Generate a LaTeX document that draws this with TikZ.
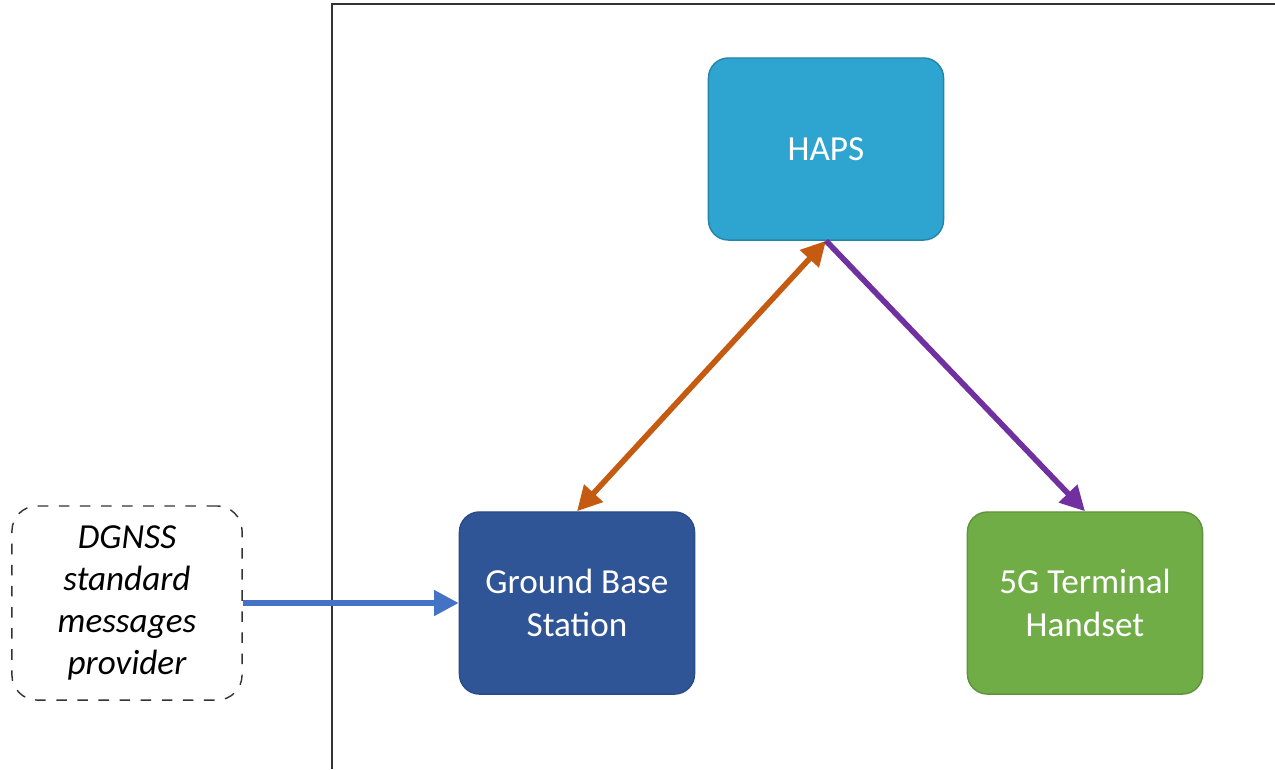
\documentclass[tikz,border=0pt]{standalone}
\usepackage{fontspec}
\setmainfont{Carlito}
\usetikzlibrary{arrows.meta}
\definecolor{hapsblue}{HTML}{2EA5D1}
\definecolor{gbsblue}{HTML}{2F5597}
\definecolor{termgreen}{HTML}{70AD47}
\definecolor{linkorange}{HTML}{C55A11}
\definecolor{linkpurple}{HTML}{7030A0}
\definecolor{feedblue}{HTML}{4472C4}
\tikzset{
  unitbox/.style={rounded corners=0.2cm, minimum width=2.35cm, minimum height=1.82cm,
    text=white, align=center, font=\fontsize{10}{12.2}\selectfont, inner sep=0pt},
  feedbox/.style={rounded corners=0.25cm, draw=black!80, dashed, minimum width=2.3cm,
    minimum height=1.94cm, align=center, font=\fontsize{10}{12}\selectfont\itshape, inner sep=0pt},
  link/.style={line width=1.6pt, -{Triangle[length=7pt,width=7pt]}}
}
\begin{document}
\begin{tikzpicture}[x=0.01cm, y=-0.01cm]
        \useasboundingbox (0,0) rectangle (1275,769);

        % frame
        \draw[black!80, line width=0.6pt] (332,769) -- (332,4) -- (1275,4);

        \node[unitbox, fill=hapsblue, draw=hapsblue!80!black] (haps) at (826,149) {HAPS};
        \node[unitbox, fill=gbsblue, draw=gbsblue!90!black] (gbs) at (577,603) {Ground Base\\Station};
        \node[unitbox, fill=termgreen, draw=termgreen!85!black] (term) at (1085,603) {5G Terminal\\Handset};
        \node[feedbox] (dgnss) at (127,603) {DGNSS\\standard\\messages\\provider};

        \draw[link, linkorange, {Triangle[length=7pt,width=7pt]}-{Triangle[length=7pt,width=7pt]}] (gbs.north) -- (haps.south);
        \draw[link, linkpurple] (haps.south) -- (term.north);
        \draw[link, feedblue] (dgnss.east) -- (gbs.west);
    \end{tikzpicture}
\end{document}
